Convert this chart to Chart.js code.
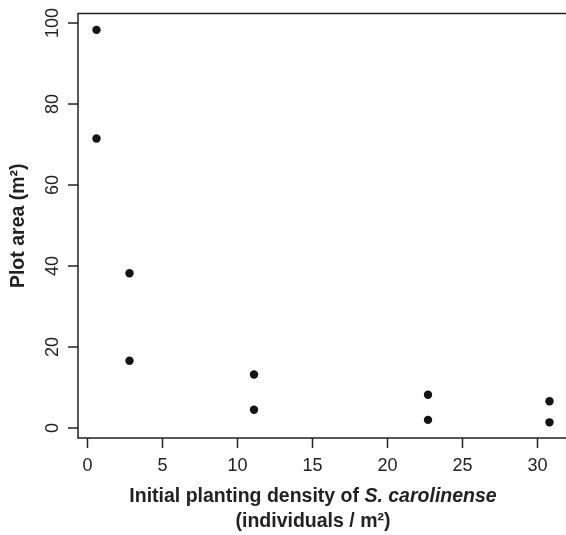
<!DOCTYPE html>
<html>
<head>
<meta charset="utf-8">
<script src="https://cdn.jsdelivr.net/npm/chart.js@4.4.0/dist/chart.umd.min.js"></script>
<style>
  html, body { margin: 0; padding: 0; background: #fff; overflow: hidden; }
  #wrap { position: relative; width: 566px; height: 535px; }
</style>
</head>
<body>
<div id="wrap"><canvas id="densityChart"></canvas></div>
<script>
// dados
const densidade = [0.6, 0.6, 2.8, 2.8, 11.1, 11.1, 22.7, 22.7, 30.8, 30.8];
const areaParcela = [98.3, 71.5, 38.2, 16.6, 13.2, 4.5, 8.2, 2.0, 6.6, 1.4];
const xTicks = [0, 5, 10, 15, 20, 25, 30];
const yTicks = [0, 20, 40, 60, 80, 100];

const fonte = "'Liberation Sans', Arial, Helvetica, sans-serif";
const corEixo = '#222';

// eixos estilo R: caixa, marcas e rótulos desenhados por cima
const eixosR = {
    id: 'eixosR',
    afterDraw(chart) {
        const ctx = chart.ctx;
        const a = chart.chartArea;
        const sx = chart.scales.x;
        const sy = chart.scales.y;
        ctx.save();
        ctx.strokeStyle = corEixo;
        ctx.lineWidth = 1.5;

        // caixa (lado direito fica fora da imagem)
        ctx.beginPath();
        ctx.moveTo(a.right + 5, a.top);
        ctx.lineTo(a.left, a.top);
        ctx.lineTo(a.left, a.bottom);
        ctx.lineTo(a.right + 5, a.bottom);
        ctx.stroke();

        // marcas e rótulos do eixo x
        ctx.fillStyle = corEixo;
        ctx.font = '18px ' + fonte;
        ctx.textAlign = 'center';
        ctx.textBaseline = 'middle';
        xTicks.forEach(v => {
            const px = sx.getPixelForValue(v);
            ctx.beginPath();
            ctx.moveTo(px, a.bottom);
            ctx.lineTo(px, a.bottom + 10);
            ctx.stroke();
            ctx.fillText(String(v), px, a.bottom + 28);
        });

        // marcas e rótulos do eixo y (texto girado)
        yTicks.forEach(v => {
            const py = sy.getPixelForValue(v);
            ctx.beginPath();
            ctx.moveTo(a.left, py);
            ctx.lineTo(a.left - 10, py);
            ctx.stroke();
            ctx.save();
            ctx.translate(a.left - 25, py);
            ctx.rotate(-Math.PI / 2);
            ctx.fillText(String(v), 0, 0);
            ctx.restore();
        });

        // título do eixo y
        ctx.font = 'bold 19.5px ' + fonte;
        ctx.save();
        ctx.translate(19, (a.top + a.bottom) / 2);
        ctx.rotate(-Math.PI / 2);
        ctx.fillText('Plot area (m²)', 0, 0);
        ctx.restore();

        // título do eixo x, com nome da espécie em itálico
        const cx = 313;
        const p1 = 'Initial planting density of ';
        const p2 = 'S. carolinense';
        ctx.font = 'bold 19.5px ' + fonte;
        const w1 = ctx.measureText(p1).width;
        ctx.font = 'italic bold 19.5px ' + fonte;
        const w2 = ctx.measureText(p2).width;
        let x0 = cx - (w1 + w2) / 2;
        ctx.textAlign = 'left';
        ctx.font = 'bold 19.5px ' + fonte;
        ctx.fillText(p1, x0, 497);
        ctx.font = 'italic bold 19.5px ' + fonte;
        ctx.fillText(p2, x0 + w1, 497);
        ctx.textAlign = 'center';
        ctx.font = 'bold 19.5px ' + fonte;
        ctx.fillText('(individuals / m²)', cx, 522);

        ctx.restore();
    }
};

document.addEventListener('DOMContentLoaded', () => {
    if (typeof Chart === 'undefined') return;

    const canvas = document.getElementById('densityChart');
    new Chart(canvas.getContext('2d'), {
        type: 'scatter',
        data: {
            datasets: [{
                data: densidade.map((d, i) => ({ x: d, y: areaParcela[i] })),
                backgroundColor: '#141414',
                borderColor: '#141414',
                borderWidth: 0,
                pointRadius: 4.2,
                pointHoverRadius: 4.2
            }]
        },
        options: {
            responsive: true,
            maintainAspectRatio: false,
            animation: false,
            events: [],
            layout: {
                autoPadding: false,
                padding: { left: 78, top: 13.5, right: 0, bottom: 97 }
            },
            plugins: {
                legend: { display: false },
                tooltip: { enabled: false }
            },
            scales: {
                x: { type: 'linear', min: -0.633, max: 31.9, display: false },
                y: { type: 'linear', min: -2.47, max: 102.35, display: false }
            }
        },
        plugins: [eixosR]
    });
});
</script>
</body>
</html>
